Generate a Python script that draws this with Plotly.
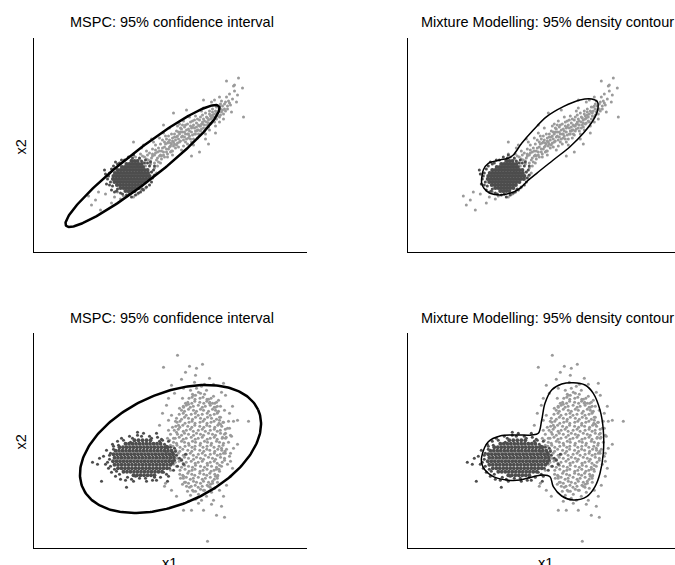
import numpy as np
import plotly.graph_objects as go

# ---------------- data (panel units, x1 to the right, x2 upward) ----------------
# Top data set: tight dark group (dense core rows + scattered rim) and elongated light group
TOP_DARK_ROWS = [
    (61, [92, 95, 98, 101]),
    (64, [87, 90, 93, 96, 99, 102, 105]),
    (67, [83.5, 86.5, 89.5, 92.5, 95.5, 98.5, 101.5, 104.5, 107.5]),
    (70, [81, 84, 87, 90, 93, 96, 99, 102, 105, 108, 111]),
    (73, [79.5, 82.5, 85.5, 88.5, 91.5, 94.5, 97.5, 100.5, 103.5, 106.5, 109.5, 112.5, 115.5]),
    (76, [80, 83, 86, 89, 92, 95, 98, 101, 104, 107, 110, 113, 116]),
    (79, [81.5, 84.5, 87.5, 90.5, 93.5, 96.5, 99.5, 102.5, 105.5, 108.5, 111.5, 114.5]),
    (82, [84, 87, 90, 93, 96, 99, 102, 105, 108, 111, 114]),
    (85, [88.5, 91.5, 94.5, 97.5, 100.5, 103.5, 106.5, 109.5]),
    (88, [93, 96, 99, 102, 105, 108]),
    (91, [98, 101, 104]),
]
TOP_DARK_EDGE = [
    (76, 79), (77, 70), (78, 83), (79, 66), (80, 86), (83, 61), (86, 89), (87, 59),
    (91, 92), (96, 58), (99, 94), (108, 91), (111, 89), (113, 65), (116, 86), (118, 80),
    (119, 74), (116, 67), (74, 73), (84, 88), (84, 63), (109, 63), (114, 89), (120, 82),
    (81, 60), (78, 62), (72, 78), (106, 94), (102, 57), (93, 57), (71, 82), (76, 67),
    (121, 77), (118, 70), (110, 62), (100, 97), (88, 92), (121, 86), (105, 59), (75, 76),
    (73, 68), (82, 90), (95, 95), (112, 92), (117, 90), (89, 58), (98, 55), (107, 60),
]
TOP_LIGHT = [
    (95, 88), (98, 92), (102, 95), (104, 87), (100, 98), (106, 93), (92, 84),
    (107, 98), (109, 90), (111, 95), (113, 101), (108, 104), (112, 86), (115, 92), (114, 97),
    (110, 107), (106, 80), (116, 99), (118, 94), (119, 103), (121, 97), (122, 107), (117, 88),
    (124, 100), (120, 110), (123, 92), (125, 104), (118, 113), (126, 96), (118, 80), (121, 84),
    (120, 76), (124, 86), (116, 74), (123, 79), (127, 89), (127, 108), (128, 101), (129, 112),
    (130, 97), (131, 105), (132, 116), (133, 100), (134, 109), (126, 114), (135, 103), (130, 119),
    (128, 93), (134, 95), (136, 112), (137, 106), (138, 118), (139, 101), (140, 110), (141, 115),
    (142, 104), (143, 121), (144, 109), (136, 124), (145, 113), (139, 97), (144, 126), (141, 108),
    (137, 100), (146, 118), (147, 111), (148, 123), (149, 116), (150, 106), (151, 120), (152, 127),
    (153, 113), (154, 118), (146, 128), (155, 123), (148, 102), (152, 110), (150, 131), (154, 108),
    (156, 116), (157, 126), (158, 120), (159, 131), (160, 113), (161, 124), (162, 118), (163, 129),
    (164, 122), (156, 135), (165, 127), (158, 110), (162, 136), (160, 107), (164, 114), (166, 132),
    (167, 121), (168, 128), (169, 137), (170, 124), (171, 131), (172, 118), (173, 135), (174, 127),
    (166, 117), (175, 132), (168, 141), (172, 113), (170, 144), (176, 138), (177, 128), (178, 134),
    (179, 143), (180, 131), (181, 138), (182, 126), (183, 145), (184, 136), (176, 122), (185, 141),
    (178, 150), (182, 119), (186, 146), (187, 137), (188, 151), (189, 142), (190, 133), (191, 148),
    (192, 141), (193, 155), (194, 146), (186, 130), (195, 151), (196, 158), (197, 147), (199, 153),
    (201, 161), (203, 150), (198, 140), (200, 166), (204, 157),
    (133, 113), (138, 108), (143, 115), (147, 120), (151, 115), (155, 118), (159, 125), (163, 121),
    (167, 126), (171, 127), (175, 129), (179, 137), (183, 140), (145, 105), (139, 114), (149, 127),
    (157, 113), (161, 118), (165, 122), (169, 130), (173, 124), (177, 133), (187, 143), (131, 110),
    (127, 97), (135, 116), (119, 98), (113, 93), (109, 96), (122, 102),
    (117, 91), (119, 96), (121, 89), (122, 99), (124, 94), (125, 90), (126, 101), (128, 96),
    (129, 104), (130, 100), (131, 95), (132, 108), (133, 103), (134, 98), (135, 110), (136, 105),
    (137, 109), (138, 101), (139, 111), (140, 106), (141, 118), (142, 112), (143, 107), (144, 116),
    (145, 120), (146, 110), (147, 124), (148, 115), (149, 120), (150, 112), (151, 125), (152, 118),
    (153, 122), (154, 128), (155, 114), (156, 121), (157, 130), (158, 124), (159, 117), (160, 127),
    (161, 132), (162, 121), (163, 125), (164, 133), (165, 118), (166, 126), (167, 135), (168, 123),
    (169, 128), (170, 133), (171, 121), (172, 139), (173, 130), (174, 134), (175, 125), (176, 141),
    (177, 136), (178, 129), (179, 140), (180, 135), (181, 130), (182, 141), (183, 133), (184, 139),
    (185, 145), (186, 135), (187, 148), (188, 140), (189, 146), (190, 138), (192, 150), (194, 143),
    (196, 149),
    (205, 174), (193, 171), (201, 167), (209, 164), (210, 135), (191, 143), (186, 155), (181, 152),
    (170, 152), (140, 139), (130, 127), (100, 110), (153, 142), (166, 100), (175, 108), (158, 96),
    (55, 56), (58, 47), (62, 52), (67, 42), (78, 49), (87, 53), (90, 56), (95, 60), (100, 55),
    (104, 58), (84, 60), (108, 62), (112, 64), (72, 58), (81, 55), (65, 60),
]

# Bottom data set: compact dark group + tall light group
BOTTOM_DARK_ROWS = [
    (73, [100, 103.5, 107, 110.5, 114, 117.5, 121]),
    (76.5, [90, 93.5, 97, 100.5, 104, 107.5, 111, 114.5, 118, 121.5, 125, 128.5]),
    (80, [84.5, 88, 91.5, 95, 98.5, 102, 105.5, 109, 112.5, 116, 119.5, 123, 126.5, 130, 133.5]),
    (83.5, [81, 84.5, 88, 91.5, 95, 98.5, 102, 105.5, 109, 112.5, 116, 119.5, 123, 126.5, 130, 133.5, 137]),
    (87, [79.5, 83, 86.5, 90, 93.5, 97, 100.5, 104, 107.5, 111, 114.5, 118, 121.5, 125, 128.5, 132, 135.5, 139]),
    (90.5, [81, 84.5, 88, 91.5, 95, 98.5, 102, 105.5, 109, 112.5, 116, 119.5, 123, 126.5, 130, 133.5, 137, 140.5]),
    (94, [80, 83.5, 87, 90.5, 94, 97.5, 101, 104.5, 108, 111.5, 115, 118.5, 122, 125.5, 129, 132.5, 136, 139.5]),
    (97.5, [82, 85.5, 89, 92.5, 96, 99.5, 103, 106.5, 110, 113.5, 117, 120.5, 124, 127.5, 131, 134.5, 138]),
    (101, [86, 89.5, 93, 96.5, 100, 103.5, 107, 110.5, 114, 117.5, 121, 124.5, 128, 131.5, 134]),
    (104.5, [92, 95.5, 99, 102.5, 106, 109.5, 113, 116.5, 120, 123.5, 127]),
    (108, [101, 105, 109, 113, 117]),
]
BOTTOM_DARK_EDGE = [
    (59, 86), (64, 84), (66, 90), (68, 67), (70, 92), (72, 84), (73, 98), (75, 80), (76, 89),
    (77, 95), (78, 76), (79, 104), (82, 72), (84, 107), (87, 69), (88, 110), (92, 68), (93, 61),
    (96, 112), (98, 69), (100, 67), (104, 113), (106, 70), (110, 115), (113, 67), (116, 112),
    (119, 68), (123, 68), (124, 111), (127, 71), (128, 109), (131, 104), (133, 74), (134, 67),
    (135, 107), (137, 101), (139, 85), (140, 78), (142, 97), (143, 93), (144, 82), (146, 90),
    (148, 88), (150, 84), (152, 94), (129, 108), (123, 115), (104, 116), (135, 72), (97, 106),
    (85, 103), (80, 99), (83, 77), (141, 100), (74, 86), (77, 82), (76, 93), (81, 79),
    (80, 102), (86, 74), (90, 108), (94, 71), (99, 110), (108, 112), (112, 70), (118, 110),
    (121, 71), (126, 107), (130, 76), (133, 102), (136, 80), (139, 96), (141, 88), (102, 72),
]
# light group core, one entry per band: (x values, x2 values)
BOTTOM_LIGHT_BANDS = [
    ([159, 162, 167, 171], [58, 57, 59, 58]),
    ([157.7, 161.7, 164.7, 168.7, 173.7, 176.7], [62, 63, 61, 62, 63, 61]),
    ([151, 155, 160, 163, 167, 170, 175, 179], [66, 65, 67, 66, 65, 67, 66, 65]),
    ([149.8, 152.8, 156.8, 159.8, 164.8, 168.8, 171.8, 176.8, 180.8, 183.8],
     [70, 71, 69, 70, 71, 69, 70, 71, 69, 70]),
    ([146.3, 149.3, 154.3, 158.3, 161.3, 166.3, 170.3, 173.3, 176.3, 181.3, 184.3],
     [74, 73, 75, 74, 73, 75, 74, 73, 75, 74, 73]),
    ([146.5, 151.5, 155.5, 158.5, 161.5, 166.5, 169.5, 173.5, 177.5, 180.5, 185.5],
     [78, 79, 77, 78, 79, 77, 78, 79, 77, 78, 79]),
    ([143, 148, 151, 155, 159, 162, 167, 171, 174, 178, 183, 186],
     [82, 81, 83, 82, 81, 83, 82, 81, 83, 82, 81, 83]),
    ([141.7, 145.7, 149.7, 152.7, 157.7, 161.7, 164.7, 168.7, 173.7, 176.7, 180.7, 183.7, 188.7],
     [86, 87, 85, 86, 87, 85, 86, 87, 85, 86, 87, 85, 86]),
    ([144, 148, 151, 155, 160, 163, 167, 170, 175, 179, 182, 187, 191],
     [90, 89, 91, 90, 89, 91, 90, 89, 91, 90, 89, 91, 90]),
    ([140.8, 144.8, 149.8, 152.8, 156.8, 159.8, 164.8, 168.8, 171.8, 176.8, 180.8, 183.8, 186.8, 191.8],
     [94, 95, 93, 94, 95, 93, 94, 95, 93, 94, 95, 93, 94, 95]),
    ([142.3, 146.3, 149.3, 154.3, 158.3, 161.3, 166.3, 170.3, 173.3, 176.3, 181.3, 184.3, 188.3, 191.5],
     [98, 97, 99, 98, 97, 99, 98, 97, 99, 98, 97, 99, 98, 97]),
    ([139.5, 143.5, 146.5, 151.5, 155.5, 158.5, 161.5, 166.5, 169.5, 173.5, 177.5, 180.5, 185.5, 189.5],
     [102, 103, 101, 102, 103, 101, 102, 103, 101, 102, 103, 101, 102, 103]),
    ([140, 143, 148, 151, 155, 159, 162, 167, 171, 174, 178, 183, 186, 190],
     [106, 105, 107, 106, 105, 107, 106, 105, 107, 106, 105, 107, 106, 105]),
    ([141.7, 145.7, 149.7, 152.7, 157.7, 161.7, 164.7, 168.7, 173.7, 176.7, 180.7, 183.7, 188.7, 192.7],
     [110, 111, 109, 110, 111, 109, 110, 111, 109, 110, 111, 109, 110, 111]),
    ([144, 148, 151, 155, 160, 163, 167, 170, 175, 179, 182, 187, 191],
     [114, 113, 115, 114, 113, 115, 114, 113, 115, 114, 113, 115, 114]),
    ([140.8, 144.8, 149.8, 152.8, 156.8, 159.8, 164.8, 168.8, 171.8, 176.8, 180.8, 183.8, 186.8, 191.8],
     [118, 119, 117, 118, 119, 117, 118, 119, 117, 118, 119, 117, 118, 119]),
    ([142.3, 146.3, 149.3, 154.3, 158.3, 161.3, 166.3, 170.3, 173.3, 176.3, 181.3, 184.3, 188.3],
     [122, 121, 123, 122, 121, 123, 122, 121, 123, 122, 121, 123, 122]),
    ([143.5, 146.5, 151.5, 155.5, 158.5, 161.5, 166.5, 169.5, 173.5, 177.5, 180.5, 185.5, 189.5],
     [126, 127, 125, 126, 127, 125, 126, 127, 125, 126, 127, 125, 126]),
    ([143, 148, 151, 155, 159, 162, 167, 171, 174, 178, 183, 186],
     [130, 129, 131, 130, 129, 131, 130, 129, 131, 130, 129, 131]),
    ([145.7, 149.7, 152.7, 157.7, 161.7, 164.7, 168.7, 173.7, 176.7, 180.7, 183.7],
     [134, 135, 133, 134, 135, 133, 134, 135, 133, 134, 135]),
    ([148, 151, 155, 160, 163, 167, 170, 175, 179, 182],
     [138, 137, 139, 138, 137, 139, 138, 137, 139, 138]),
    ([149.8, 152.8, 156.8, 159.8, 164.8, 168.8, 171.8, 176.8, 180.8, 183.8],
     [142, 143, 141, 142, 143, 141, 142, 143, 141, 142]),
    ([154.3, 158.3, 161.3, 166.3, 170.3, 173.3, 176.3, 181.3], [146, 145, 147, 146, 145, 147, 146, 145]),
    ([155.5, 158.5, 161.5, 166.5, 169.5, 173.5, 177.5], [150, 151, 149, 150, 151, 149, 150]),
    ([159, 162, 167, 171], [154, 153, 155, 154]),
]
BOTTOM_LIGHT = [
    # rim of the light group
    (140, 84), (138, 92), (142, 97), (137, 103), (140, 110), (143, 116), (139, 121), (142, 127),
    (137, 114), (136, 108), (188, 82), (191, 88), (193, 99), (192, 110), (194, 120), (190, 126),
    (187, 131), (185, 137), (190, 95), (186, 77), (184, 72), (192, 115), (195, 106), (187, 142),
    (183, 146), (152, 145), (160, 153), (165, 156), (175, 149), (179, 145), (163, 160), (168, 162),
    (173, 158), (157, 158), (150, 141), (182, 141), (161, 166), (171, 164), (152, 66), (156, 61),
    (160, 57), (165, 54), (170, 58), (175, 62), (179, 67), (163, 50), (168, 48), (173, 52),
    (157, 53), (150, 72), (182, 72), (178, 56), (154, 57), (146, 140), (184, 136), (186, 128),
    (147, 70), (149, 64), (184, 66), (181, 60), (145, 123), (187, 124), (188, 100), (155, 144),
    (176, 145), (183, 79), (189, 111), (149, 150), (180, 152), (153, 62), (177, 64),
    (196, 92), (197, 113), (195, 127), (135, 118), (134, 101), (194, 84), (191, 138), (138, 133),
    # stragglers
    (144, 193), (130, 181), (156, 182), (163, 180), (169, 184), (162, 173), (148, 169), (138, 163),
    (180, 164), (190, 165), (192, 153), (199, 142), (200, 127), (204, 128), (215, 127), (198, 112),
    (204, 104), (197, 95), (197, 87), (197, 72), (193, 63), (188, 42), (183, 33), (191, 31),
    (174, 7), (170, 38), (158, 38), (150, 38), (143, 52), (138, 58), (132, 65), (131, 62),
    (126, 123), (129, 135), (133, 143), (135, 128), (134, 110), (133, 96), (136, 88), (137, 78),
    (186, 58), (190, 52), (180, 48), (165, 45), (155, 47), (150, 160), (185, 148), (188, 156),
    (176, 170), (152, 176), (196, 120), (196, 135), (135, 150), (141, 155), (178, 44), (162, 49),
    (199, 80), (200, 100),
]

# MSPC 95% confidence ellipses: centre x, centre y, semi-axes, tilt (deg)
TOP_ELLIPSE = (109, 86, 97, 15.5, 38)
BOTTOM_ELLIPSE = (137, 99.3, 96, 55.5, 24)

# Mixture-model 95% density contours (closed outlines)
TOP_CONTOUR = [
    (73.4, 73.7), (75, 82), (80, 88.7), (91.7, 92), (100, 93.7), (105, 97), (113.4, 108.7),
    (125, 122), (138.4, 135.3), (155, 145.3), (171.7, 152), (183.4, 153), (189, 150.3),
    (189.4, 142), (185, 132), (175, 118.7), (161.7, 105.3), (145, 92), (128.4, 78.7),
    (118.4, 70.3), (111.7, 63.7), (101.7, 58.7), (91.7, 57), (81.7, 58.7), (75.7, 63.7),
    (73.4, 68.7),
]
BOTTOM_CONTOUR = [
    (73.4, 91.6), (80, 106.6), (91.7, 112.3), (108.4, 113.3), (123.4, 113.3), (130, 115),
    (133.4, 128.3), (136.7, 145), (143.4, 158.3), (153.4, 164.3), (165, 165.6), (176.7, 163.3),
    (185, 155), (191.7, 138.3), (195, 118.3), (195, 95), (191.7, 75), (186.7, 61.6),
    (178.4, 51.6), (165, 48.3), (153.4, 52.3), (145, 61.6), (141.7, 71.6), (135, 73.3),
    (125, 71.6), (111.7, 68.3), (98.4, 68.3), (85, 71.6), (76.7, 78.3), (73.4, 85),
]

TITLES = ["MSPC: 95% confidence interval", "Mixture Modelling: 95% density contour"]
XLAB, YLAB = "x1", "x2"


# ---------------- helpers ----------------
def expand_rows(rows):
    xs, ys = [], []
    for y, row in rows:
        xs.extend(row)
        ys.extend([y] * len(row))
    return xs, ys


def expand_bands(bands):
    xs, ys = [], []
    for bx, by in bands:
        xs.extend(bx)
        ys.extend(by)
    return xs, ys


def split(pts):
    return [p[0] for p in pts], [p[1] for p in pts]


def ellipse_path(cx, cy, a, b, deg):
    t = np.linspace(0, 2 * np.pi, 240)
    th = np.radians(deg)
    x = cx + a * np.cos(t) * np.cos(th) - b * np.sin(t) * np.sin(th)
    y = cy + a * np.cos(t) * np.sin(th) + b * np.sin(t) * np.cos(th)
    return x, y


LIGHT = "#9a9a9a"
DARK = "#4d4d4d"
MS = 3

fig = go.Figure()

datasets = [
    (TOP_LIGHT, [], TOP_DARK_ROWS, 4.2, TOP_DARK_EDGE, TOP_ELLIPSE, TOP_CONTOUR,
     ("x", "y"), ("x2", "y2")),
    (BOTTOM_LIGHT, BOTTOM_LIGHT_BANDS, BOTTOM_DARK_ROWS, 3.9, BOTTOM_DARK_EDGE, BOTTOM_ELLIPSE,
     BOTTOM_CONTOUR, ("x3", "y3"), ("x4", "y4")),
]


def pts_trace(x, y, size, color, xa, ya):
    return go.Scatter(x=x, y=y, mode="markers", xaxis=xa, yaxis=ya,
                      marker=dict(size=size, color=color, line=dict(width=0)),
                      hoverinfo="skip")


for light, lbands, drows, core_size, dedge, ell, cont, axL, axR in datasets:
    lx, ly = split(light)
    bx, by = expand_bands(lbands)
    dx, dy = expand_rows(drows)
    ex, ey = split(dedge)
    for (xa_, ya_) in (axL, axR):
        if bx:
            fig.add_trace(pts_trace(bx, by, MS, LIGHT, xa_, ya_))
        fig.add_trace(pts_trace(lx, ly, MS, LIGHT, xa_, ya_))
        fig.add_trace(pts_trace(dx, dy, core_size, DARK, xa_, ya_))
        fig.add_trace(pts_trace(ex, ey, MS, DARK, xa_, ya_))
    qx, qy = ellipse_path(*ell)
    fig.add_trace(go.Scatter(x=qx, y=qy, mode="lines", xaxis=axL[0], yaxis=axL[1],
                             line=dict(color="black", width=2.5), hoverinfo="skip"))
    cx, cy = split(cont + [cont[0]])
    fig.add_trace(go.Scatter(x=cx, y=cy, mode="lines", xaxis=axR[0], yaxis=axR[1],
                             line=dict(color="black", width=1.5, shape="spline", smoothing=1.0),
                             hoverinfo="skip"))

W, H = 675, 565


def px_x(p):
    return p / W


def px_y(p):
    return 1 - p / H


xl = [px_x(33.5), px_x(307)]
xr = [px_x(408.3), 1.0]
yt = [px_y(252), px_y(37.5)]
yb = [px_y(548.3), px_y(333.3)]
XR_L = [0, 273.5]
XR_R = [0, 266.7]
YR_T = [0, 214.5]
YR_B = [0, 215]


def axis(dom, rng, anchor):
    return dict(domain=dom, range=rng, anchor=anchor, showline=True, linecolor="black",
                linewidth=1, showgrid=False, zeroline=False, showticklabels=False,
                ticks="", fixedrange=True)


fig.update_layout(
    width=W, height=H, margin=dict(l=0, r=0, t=0, b=0),
    paper_bgcolor="white", plot_bgcolor="white", showlegend=False,
    font=dict(family="Liberation Sans, Arial, Helvetica, sans-serif", size=14.5, color="black"),
    xaxis=axis(xl, XR_L, "y"), yaxis=axis(yt, YR_T, "x"),
    xaxis2=axis(xr, XR_R, "y2"), yaxis2=axis(yt, YR_T, "x2"),
    xaxis3=axis(xl, XR_L, "y3"), yaxis3=axis(yb, YR_B, "x3"),
    xaxis4=axis(xr, XR_R, "y4"), yaxis4=axis(yb, YR_B, "x4"),
)

ann = []
for yy in (22.5, 317.5):
    ann.append(dict(text=TITLES[0], x=px_x(172), y=px_y(yy)))
    ann.append(dict(text=TITLES[1], x=px_x(547), y=px_y(yy)))
for yy in (147, 442):
    ann.append(dict(text=YLAB, x=px_x(20.5), y=px_y(yy), textangle=-90))
for xx in (170, 545):
    ann.append(dict(text=XLAB, x=px_x(xx), y=px_y(562.5)))
for a in ann:
    a.update(xref="paper", yref="paper", showarrow=False, xanchor="center", yanchor="middle")
fig.update_layout(annotations=ann)

fig.write_html("out.html", config={"displayModeBar": False})
